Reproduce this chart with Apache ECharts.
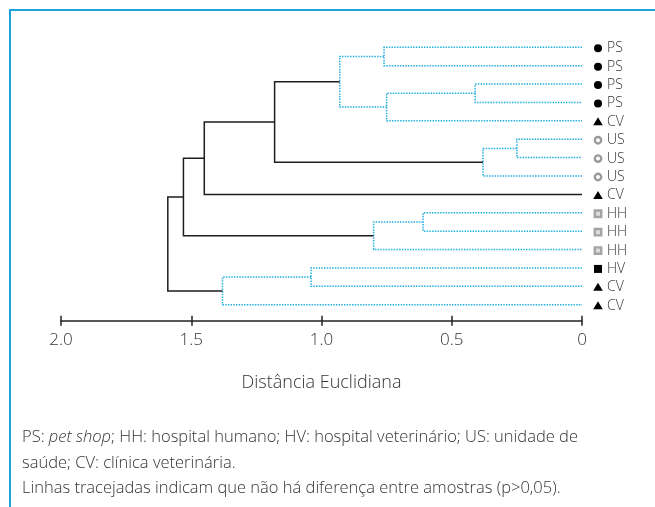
<!DOCTYPE html>
<html>
<head>
<meta charset="utf-8">
<script src="https://cdn.jsdelivr.net/npm/echarts@6/dist/echarts.min.js"></script>
<style>html,body{margin:0;padding:0;background:#fff}#main{width:655px;height:507px}</style>
</head>
<body>
<div id="main"></div>
<script>
// leaves, top to bottom
const leafLabels = ['PS', 'PS', 'PS', 'PS', 'CV', 'US', 'US', 'US', 'CV', 'HH', 'HH', 'HH', 'HV', 'CV', 'CV'];
// merges: leaves are nodes 0..14, merge k creates node 15 + k
const mergeLeft = [0, 2, 16, 15, 5, 19, 18, 21, 9, 23, 22, 12, 26, 25];
const mergeRight = [1, 3, 4, 17, 6, 7, 20, 8, 10, 11, 24, 13, 14, 27];
const mergeHeight = [0.76, 0.41, 0.75, 0.93, 0.25, 0.38, 1.18, 1.45, 0.61, 0.80, 1.53, 1.04, 1.38, 1.59];
const mergeSignificant = [0, 0, 0, 0, 0, 0, 1, 1, 0, 0, 1, 0, 0, 1];
const tickLabels = {0: '0', 0.5: '0.5', 1: '1.0', 1.5: '1.5', 2: '2.0'};

const FONT = 'Open Sans';
const nodeY = leafLabels.map((_, i) => i);
const nodeH = leafLabels.map(() => 0);
const segData = [];
mergeHeight.forEach((h, k) => {
    const l = mergeLeft[k], r = mergeRight[k];
    segData.push([nodeH[l], nodeY[l], nodeH[r], nodeY[r], h, mergeSignificant[k]]);
    nodeY.push((nodeY[l] + nodeY[r]) / 2);
    nodeH.push(h);
});

const solidStyle = {stroke: '#1e1e1e', lineWidth: 1.5, fill: null};
const dottedStyle = {stroke: '#29aee3', lineWidth: 1.5, lineDash: [1.5, 1.2], fill: null};

function marker(type, x, y) {
    if (type === 'PS') return {type: 'circle', shape: {cx: x, cy: y, r: 4}, style: {fill: '#000'}};
    if (type === 'CV') return {type: 'polygon', shape: {points: [[x, y - 4.5], [x + 4.8, y + 3.5], [x - 4.8, y + 3.5]]}, style: {fill: '#000'}};
    if (type === 'US') return {type: 'circle', shape: {cx: x, cy: y, r: 3.2}, style: {fill: '#fff', stroke: '#9b9b9b', lineWidth: 2.4}};
    if (type === 'HH') return {type: 'rect', shape: {x: x - 3.2, y: y - 3.2, width: 6.4, height: 6.4}, style: {fill: '#dcdcdc', stroke: '#a4a4a4', lineWidth: 2.4}};
    return {type: 'rect', shape: {x: x - 4, y: y - 4, width: 8, height: 8}, style: {fill: '#000'}};
}

const xAxisBase = {
    type: 'value', min: 0, max: 2, interval: 0.5, inverse: true,
    position: 'bottom', offset: 16, splitLine: {show: false}
};

let myChart = echarts.init(document.getElementById('main'));
myChart.setOption({
    animation: false,
    grid: {left: 61, right: 73, top: 47.3, bottom: 202.3},
    xAxis: [
        Object.assign({}, xAxisBase, {
            axisLine: {onZero: false, lineStyle: {color: '#222', width: 1.5}},
            axisTick: {length: 5, lineStyle: {color: '#222', width: 1.5}},
            axisLabel: {
                margin: 11, fontSize: 17, color: '#333', fontFamily: FONT, fontWeight: 300,
                formatter: v => tickLabels[v]
            },
            name: 'Distância Euclidiana',
            nameLocation: 'middle',
            nameGap: 53,
            nameTextStyle: {fontSize: 18, color: '#333', fontFamily: FONT, fontWeight: 300}
        }),
        Object.assign({}, xAxisBase, {
            axisLine: {show: false, onZero: false},
            axisTick: {inside: true, length: 5, lineStyle: {color: '#222', width: 1.5}},
            axisLabel: {show: false}
        })
    ],
    yAxis: {type: 'value', min: 0, max: leafLabels.length - 1, inverse: true, show: false},
    series: [
        {
            type: 'custom',
            data: segData,
            renderItem: function (params, api) {
                const y1 = api.value(1), y2 = api.value(3), h = api.value(4);
                const pts = [
                    api.coord([api.value(0), y1]),
                    api.coord([h, y1]),
                    api.coord([h, y2]),
                    api.coord([api.value(2), y2])
                ];
                return {
                    type: 'polyline',
                    shape: {points: pts},
                    style: api.value(5) ? solidStyle : dottedStyle
                };
            }
        },
        {
            type: 'custom',
            data: leafLabels.map((lab, i) => [0, i]),
            renderItem: function (params, api) {
                const p = api.coord([0, api.value(1)]);
                const lab = leafLabels[params.dataIndex];
                return {
                    type: 'group',
                    children: [
                        marker(lab, p[0] + 16, p[1] + 1),
                        {
                            type: 'text',
                            style: {
                                x: p[0] + 25, y: p[1] + 1, text: lab,
                                fontSize: 14, fontFamily: FONT, fontWeight: 300,
                                fill: '#333', verticalAlign: 'middle'
                            }
                        }
                    ]
                };
            }
        }
    ],
    graphic: [
        {
            type: 'polyline',
            shape: {points: [[10, 507], [10, 10], [655, 10]]},
            style: {stroke: '#1aa3dc', lineWidth: 2, fill: null}
        },
        {
            type: 'text', left: 22, top: 429,
            style: {
                text: '{n|PS: }{i|pet shop}{n|; HH: hospital humano; HV: hospital veterinário; US: unidade de}\n{n|saúde; CV: clínica veterinária.}\n{n|Linhas tracejadas indicam que não há diferença entre amostras (p>0,05).}',
                rich: {
                    n: {fontSize: 16.5, fontFamily: FONT, fontWeight: 300, fill: '#333', lineHeight: 25.5},
                    i: {fontSize: 16.5, fontFamily: FONT, fontWeight: 300, fontStyle: 'italic', fill: '#333', lineHeight: 25.5}
                }
            }
        }
    ]
});
</script>
</body>
</html>
